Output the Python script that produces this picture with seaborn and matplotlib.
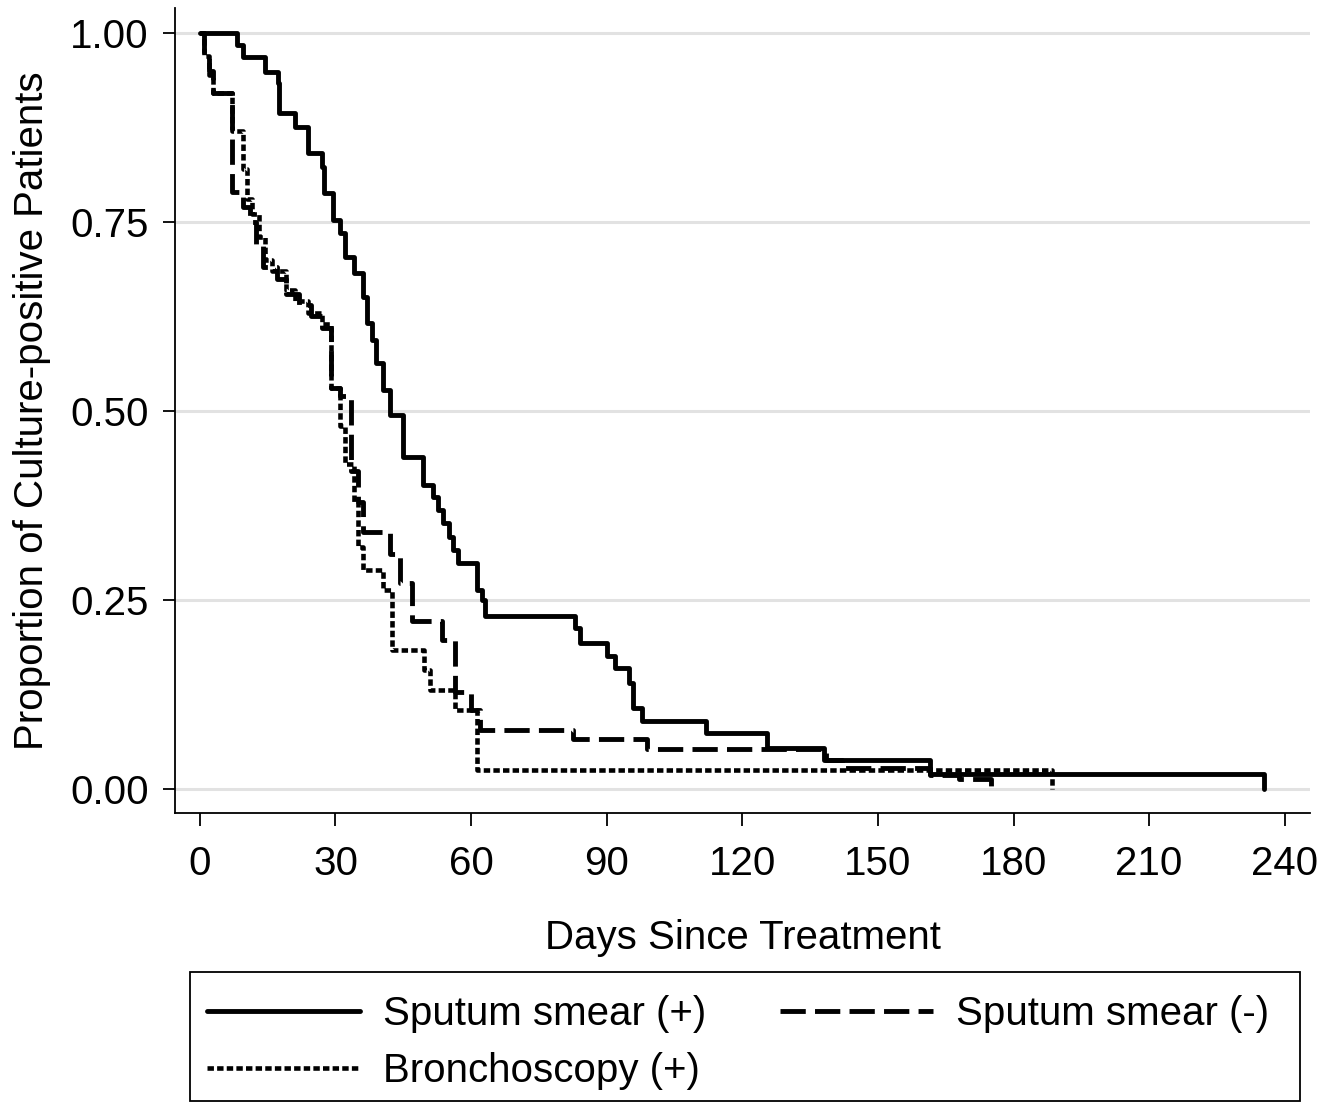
import matplotlib
matplotlib.use("Agg")
import matplotlib.pyplot as plt
from matplotlib.patches import Rectangle
import seaborn as sns
import pandas as pd

# Kaplan-Meier style step curves
smear_pos_days = [0, 8.2, 9.5, 14.4, 17.3, 17.6, 21, 24, 27, 27.5, 29.5, 31, 32, 34, 36, 37, 38, 39,
                  40.5, 42, 45, 49.3, 51.6, 52.7, 53.8, 55, 56, 57, 61.3, 62.4, 63, 83, 84, 90,
                  91.8, 95, 95.8, 97.8, 112, 125.4, 138, 161.5, 235.5]
smear_pos_prop = [1.0, 0.984, 0.968, 0.948, 0.934, 0.894, 0.876, 0.841, 0.823, 0.788, 0.753, 0.735,
                  0.704, 0.682, 0.651, 0.616, 0.594, 0.563, 0.528, 0.495, 0.439, 0.402, 0.386, 0.369,
                  0.352, 0.333, 0.316, 0.299, 0.263, 0.25, 0.228, 0.213, 0.193, 0.175, 0.160, 0.140,
                  0.107, 0.089, 0.074, 0.054, 0.038, 0.019, 0.0]

smear_neg_days = [0, 1, 2, 3, 7, 9.5, 11, 12.5, 14, 17, 19, 22, 24.5, 27, 29, 31, 33.5, 35, 36, 42,
                  44.2, 47, 53.5, 56.4, 60, 62, 82.5, 99, 138.5, 142, 161.5, 168, 175]
smear_neg_prop = [1.0, 0.975, 0.95, 0.92, 0.79, 0.77, 0.75, 0.72, 0.69, 0.675, 0.655, 0.64, 0.625,
                  0.61, 0.53, 0.52, 0.42, 0.38, 0.34, 0.31, 0.272, 0.222, 0.197, 0.128, 0.104, 0.078,
                  0.066, 0.052, 0.038, 0.027, 0.018, 0.013, 0.0]

broncho_days = [0, 1, 2, 3, 7, 9.5, 10.5, 11.5, 13, 14.5, 16, 19, 21, 24, 27, 29, 31, 32, 34, 35,
                36, 40.5, 42.5, 49.5, 51, 56.5, 61.3, 188.5]
broncho_prop = [1.0, 0.97, 0.945, 0.92, 0.87, 0.82, 0.78, 0.76, 0.73, 0.70, 0.685, 0.66, 0.645,
                0.63, 0.615, 0.53, 0.48, 0.43, 0.38, 0.32, 0.29, 0.263, 0.184, 0.157, 0.131, 0.104,
                0.025, 0.0]

x_ticks = [0, 30, 60, 90, 120, 150, 180, 210, 240]
y_ticks = [0.0, 0.25, 0.5, 0.75, 1.0]
y_ticklabels = ["0.00", "0.25", "0.50", "0.75", "1.00"]

sns.set_theme(style="white")
plt.rcParams['font.family'] = ['Liberation Sans', 'DejaVu Sans']
plt.rcParams['text.color'] = 'black'

fig = plt.figure(figsize=(13.3, 11.02), dpi=100)
ax = fig.add_axes([0.1316, 0.2623, 0.8534, 0.7304])

series = [
    ("Sputum smear (+)", smear_pos_days, smear_pos_prop, "-", 3.5),
    ("Sputum smear (-)", smear_neg_days, smear_neg_prop, (0, (5.2, 1.9)), 3.5),
    ("Bronchoscopy (+)", broncho_days, broncho_prop, (0, (1.4, 0.7)), 3.3),
]
for name, days, prop, ls, lw in series:
    df = pd.DataFrame({"days": days, "prop": prop})
    sns.lineplot(data=df, x="days", y="prop", ax=ax, color="black", linestyle=ls,
                 linewidth=lw, drawstyle="steps-post", estimator=None, label=name)

ax.set_xlim(-5.5, 245.6)
ax.set_ylim(-0.032, 1.033)
ax.set_xticks(x_ticks)
ax.set_yticks(y_ticks)
ax.set_yticklabels(y_ticklabels)
ax.yaxis.grid(True, color="#e2e2e2", linewidth=2.2)
ax.xaxis.grid(False)
ax.set_axisbelow(True)

for side in ["top", "right"]:
    ax.spines[side].set_visible(False)
for side in ["left", "bottom"]:
    ax.spines[side].set_color("black")
    ax.spines[side].set_linewidth(1.3)

ax.tick_params(axis="both", direction="out", length=9, width=1.3, color="black",
               labelsize=29, labelcolor="black", bottom=True, left=True)
ax.tick_params(axis="x", pad=14)
ax.tick_params(axis="y", pad=10)

ax.set_xlabel("Days Since Treatment", fontsize=29, color="black", labelpad=26)
ax.set_ylabel("Proportion of Culture-positive Patients", fontsize=29, color="black", labelpad=14)

handles, labels = ax.get_legend_handles_labels()
ax.get_legend().remove()
order = [0, 2, 1]
leg = fig.legend([handles[i] for i in order], [labels[i] for i in order],
                 loc="upper left", bbox_to_anchor=(184 / 1330, (1102 - 972) / 1102),
                 ncol=2, frameon=False, handlelength=3.8, handletextpad=0.55, fontsize=29,
                 borderaxespad=0, borderpad=0.58, labelspacing=0.47, columnspacing=1.85)
for t in leg.get_texts():
    t.set_color("black")

# legend box
fig.patches.append(Rectangle((190 / 1330, 0.001), (1300 - 190) / 1330, (1102 - 972) / 1102 - 0.001,
                             transform=fig.transFigure, fill=False, edgecolor="black",
                             linewidth=1.3))

fig.savefig("out.png", dpi=100)
